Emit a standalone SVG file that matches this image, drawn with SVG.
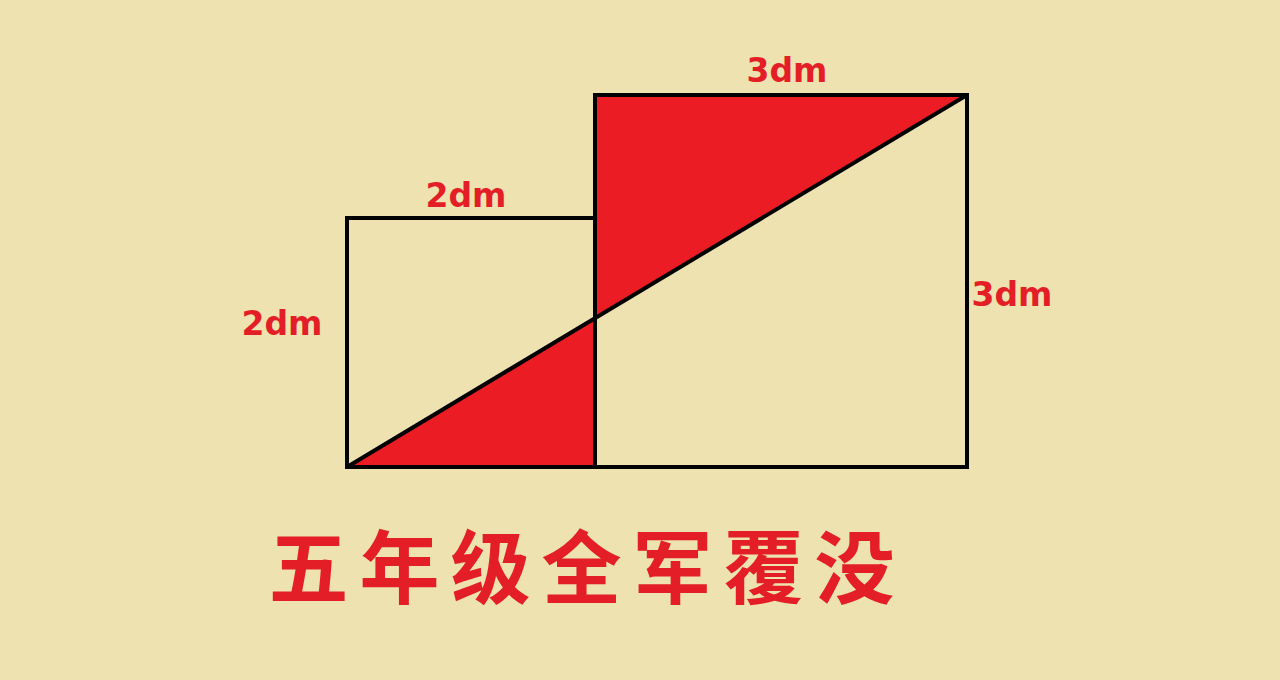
<svg xmlns="http://www.w3.org/2000/svg" width="1280" height="680" viewBox="0 0 1280 680">
<style>
.lbl{font-family:"DejaVu Sans","Liberation Sans",sans-serif;font-weight:bold;font-size:33px;fill:#E41E26;text-anchor:middle}
.title{font-family:"Noto Sans CJK SC",sans-serif;font-weight:bold;font-size:80px;fill:#E41E26;text-anchor:middle;letter-spacing:11px}
.ln{fill:none;stroke:#000;stroke-width:4;stroke-linejoin:miter}
.red{fill:#EC1C24}
</style>
<rect width="1280" height="680" fill="#EEE2B0"/>
<g id="shaded">
<polygon class="red" points="595,95 967,95 595,318"/>
<polygon class="red" points="347,467 595,467 595,318"/>
</g>
<g id="small-square"><rect class="ln" x="347" y="218" width="248" height="249"/></g>
<g id="big-square"><rect class="ln" x="595" y="95" width="372" height="372"/></g>
<g id="connectors"><line class="ln" x1="347" y1="467" x2="967" y2="95"/></g>
<g id="labels">
<text class="lbl" x="787" y="82">3dm</text>
<text class="lbl" x="466" y="207">2dm</text>
<text class="lbl" x="282" y="335">2dm</text>
<text class="lbl" x="1012" y="306">3dm</text>
</g>
<g id="title"><text class="title" x="587" y="597">五年级全军覆没</text></g>
</svg>
